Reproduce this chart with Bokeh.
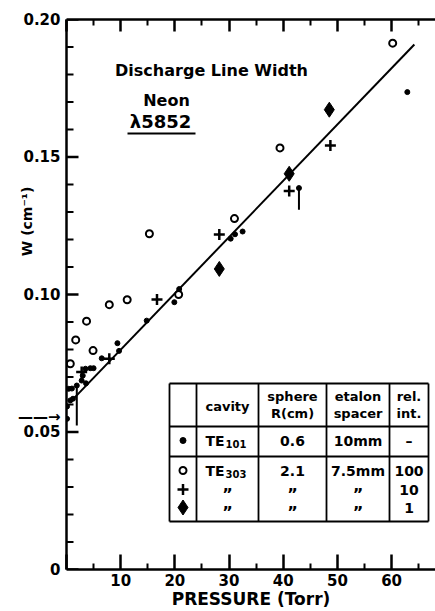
import math
from bokeh.plotting import figure
from bokeh.models import FixedTicker, LinearAxis, Range1d
from bokeh.embed import file_html
from bokeh.resources import INLINE
from bokeh.core.properties import value

# ---------------- data ----------------
# TE101 cavity (filled dots)
te101_p = [0.1, 0.1, 0.4, 0.7, 1.0, 1.2, 1.9, 2.8, 3.0, 3.5, 3.6, 4.4, 5.0, 6.5,
           9.4, 9.7, 14.8, 19.9, 20.8, 30.3, 31.1, 32.5, 42.9, 62.9]
te101_w = [0.0548, 0.0593, 0.0657, 0.0615, 0.0658, 0.0621, 0.0669, 0.0687, 0.0705,
           0.0730, 0.0677, 0.0732, 0.0732, 0.0768, 0.0823, 0.0795, 0.0905, 0.0972,
           0.1020, 0.1203, 0.1219, 0.1229, 0.1387, 0.1736]
# TE303 cavity, rel. int. 100 (open circles)
te303_100_p = [0.7, 1.7, 3.7, 4.9, 7.9, 11.2, 15.3, 20.7, 31.0, 39.4, 60.2]
te303_100_w = [0.0748, 0.0835, 0.0903, 0.0796, 0.0963, 0.0981, 0.1221, 0.1000,
               0.1276, 0.1533, 0.1914]
# TE303 cavity, rel. int. 10 (plus)
te303_10_p = [2.8, 7.9, 16.7, 28.2, 41.1, 48.7]
te303_10_w = [0.0718, 0.0766, 0.0982, 0.1218, 0.1376, 0.1542]
# TE303 cavity, rel. int. 1 (diamonds)
te303_1_p = [28.2, 41.1, 48.5]
te303_1_w = [0.1093, 0.1439, 0.1672]
# error bars
err_p = [1.9, 42.9]
err_lo = [0.0524, 0.1308]
err_hi = [0.0669, 0.1387]
# fitted line
fit_p = [1.0, 64.2]
fit_w = [0.0615, 0.1909]
# arrow marking the natural width on the W axis
arrow_w = 0.0553

# axes
x_major = [0, 10, 20, 30, 40, 50, 60]
x_minor = [5, 15, 25, 35, 45, 55, 65]
y_major = [0, 0.05, 0.10, 0.15, 0.20]
y_minor = [0.01, 0.02, 0.03, 0.04, 0.06, 0.07, 0.08, 0.09, 0.11, 0.12, 0.13,
           0.14, 0.16, 0.17, 0.18, 0.19]
y_labels = {0: "0", 0.05: "0.05", 0.1: "0.10", 0.15: "0.15", 0.2: "0.20",
            arrow_w: "\u2014\u2014\u2192"}
x_labels = {0: "", 10: "10", 20: "20", 30: "30", 40: "40", 50: "50", 60: "60"}
y_title = "W (cm\u207b\u00b9)"
x_title = "PRESSURE (Torr)"

# table contents
hdr_cavity = "cavity"
hdr_sphere = ["sphere", "R(cm)"]
hdr_spacer = ["etalon", "spacer"]
hdr_relint = ["rel.", "int."]
row_cavity = ["TE", "TE", "\u201d", "\u201d"]
row_cav_sub = ["101", "303", "", ""]
row_sphere = ["0.6", "2.1", "\u201d", "\u201d"]
row_spacer = ["10mm", "7.5mm", "\u201d", "\u201d"]
row_relint = ["\u2013", "100", "10", "1"]

# ---------------- figure ----------------
W, H = 435, 611
L, R, T, B = 66, 0, 19, 42
XMAX = 68.1
p = figure(width=W, height=H, x_range=Range1d(0, XMAX), y_range=Range1d(0, 0.2),
           output_backend="svg", toolbar_location=None,
           min_border_left=L, min_border_right=R, min_border_top=T, min_border_bottom=B,
           x_axis_location=None, y_axis_location=None)
p.xgrid.visible = False
p.ygrid.visible = False
p.outline_line_color = None
p.background_fill_color = "white"
p.border_fill_color = "white"

FONT = "DejaVu Sans"

def dx(px):
    return (px - L) / (W - L - R) * XMAX

def dy(py):
    return (H - B - py) / (H - T - B) * 0.2

def style_axis(ax, tmaj, tmin):
    ax.axis_line_width = 2.5
    ax.axis_line_color = "black"
    ax.major_tick_line_width = 2.5
    ax.minor_tick_line_width = 2
    ax.major_tick_in = tmaj
    ax.major_tick_out = 0
    ax.minor_tick_in = tmin
    ax.minor_tick_out = 0
    ax.major_label_text_font = FONT
    ax.major_label_text_font_style = "bold"
    ax.major_label_text_color = "black"
    ax.axis_label_text_font = FONT
    ax.axis_label_text_font_style = "bold"
    ax.axis_label_text_color = "black"

xax = LinearAxis(ticker=FixedTicker(ticks=x_major, minor_ticks=x_minor))
style_axis(xax, 15, 6)
xax.major_label_overrides = x_labels
xax.major_label_text_font_size = "15px"
xax.major_label_standoff = 4
xax.axis_label = x_title
xax.axis_label_text_font_size = "17px"
xax.axis_label_standoff = 0
p.add_layout(xax, "below")

# left axis: labels only (tick marks drawn inside the frame below)
yax = LinearAxis(ticker=FixedTicker(ticks=y_major + [arrow_w], minor_ticks=[]))
style_axis(yax, 0, 0)
yax.major_tick_line_color = None
yax.minor_tick_line_color = None
yax.major_label_overrides = y_labels
yax.major_label_text_font_size = "15px"
yax.major_label_standoff = 6
# leading no-break spaces move the rotated title up along the axis
yax.axis_label = "\u00a0" * 30 + y_title
yax.axis_label_text_font_size = "14px"
yax.axis_label_standoff = -20
p.add_layout(yax, "left")

tax = LinearAxis(ticker=FixedTicker(ticks=x_major, minor_ticks=x_minor))
style_axis(tax, 12, 6)
tax.major_label_text_font_size = "0px"
tax.major_label_standoff = 0
tax.major_label_overrides = {k: "" for k in x_major}
p.add_layout(tax, "above")

# y tick marks pointing into the frame
maj_len = dx(L + 12)
min_len = dx(L + 7)
p.segment(x0=[0] * len(y_major), y0=y_major, x1=[maj_len] * len(y_major), y1=y_major,
          line_color="black", line_width=2.5)
p.segment(x0=[0] * len(y_minor), y0=y_minor, x1=[min_len] * len(y_minor), y1=y_minor,
          line_color="black", line_width=2)

# ---------------- data marks ----------------
p.line(fit_p, fit_w, line_color="black", line_width=2)
p.segment(x0=err_p, y0=err_lo, x1=err_p, y1=err_hi, line_color="black", line_width=2)
p.scatter(te101_p, te101_w, marker="circle", size=5, fill_color="black", line_color="black")
p.scatter(te303_100_p, te303_100_w, marker="circle", size=7, fill_color="white",
          line_color="black", line_width=2)
p.scatter(te303_10_p, te303_10_w, marker="cross", size=11, line_color="black", line_width=2.5)
p.scatter(te303_1_p, te303_1_w, marker="diamond", size=15, fill_color="black", line_color="black")

# ---------------- titles ----------------
def txt(x, y, s, size, align="center", baseline="middle"):
    p.text(x=[x], y=[y], text=[s], text_font=value(FONT), text_font_style="bold",
           text_font_size=size, text_align=align, text_baseline=baseline, text_color="black")

txt(dx(211), dy(70), "Discharge Line Width", "16px")
txt(dx(166), dy(100), "Neon", "16px")
txt(dx(160), dy(121), "\u03bb5852", "18px")
p.segment(x0=[dx(127)], y0=[dy(133)], x1=[dx(195)], y1=[dy(133)], line_color="black", line_width=2)

# ---------------- table ----------------
cols = [169, 196, 258, 326, 389, 428]
rows = [383, 426, 456, 521]
tx0, tx1, ty0, ty1 = [], [], [], []
for c in cols:
    tx0.append(dx(c)); tx1.append(dx(c)); ty0.append(dy(rows[0])); ty1.append(dy(rows[-1]))
for r in rows:
    tx0.append(dx(cols[0])); tx1.append(dx(cols[-1])); ty0.append(dy(r)); ty1.append(dy(r))
p.segment(x0=tx0, y0=ty0, x1=tx1, y1=ty1, line_color="black", line_width=1.8)

cc = [(cols[i] + cols[i + 1]) / 2 for i in range(5)]
TS = "13px"
txt(dx(cc[1]), dy(406), hdr_cavity, TS)
for col, hdr in ((2, hdr_sphere), (3, hdr_spacer), (4, hdr_relint)):
    txt(dx(cc[col]), dy(396), hdr[0], TS)
    txt(dx(cc[col]), dy(413), hdr[1], TS)

row_y = [440, 470, 489, 507]
for i, ry in enumerate(row_y):
    for col, vals in ((1, row_cavity), (2, row_sphere), (3, row_spacer), (4, row_relint)):
        s = vals[i]
        if s == "\u201d":
            txt(dx(cc[col]), dy(ry + 5), s, "16px")
        elif col == 1:
            txt(dx(cc[col] - 3), dy(ry), s, "14px", align="right")
            txt(dx(cc[col] - 2), dy(ry + 3), row_cav_sub[i], "10px", align="left")
        else:
            txt(dx(cc[col]), dy(ry), s, "14px")

kx = dx(cc[0])
p.scatter([kx], [dy(row_y[0])], marker="circle", size=6, fill_color="black", line_color="black")
p.scatter([kx], [dy(row_y[1])], marker="circle", size=7, fill_color="white", line_color="black", line_width=2)
p.scatter([kx], [dy(row_y[2])], marker="cross", size=11, line_color="black", line_width=2.5)
p.scatter([kx], [dy(row_y[3])], marker="diamond", size=15, fill_color="black", line_color="black")

open("out.html", "w").write(file_html(p, INLINE))
